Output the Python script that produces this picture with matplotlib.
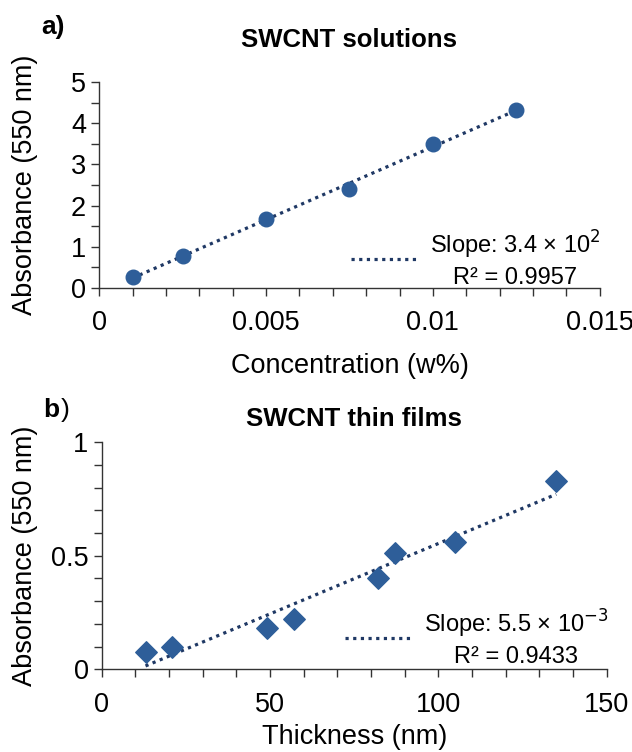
import numpy as np
import matplotlib
matplotlib.use("Agg")
import matplotlib.pyplot as plt
from matplotlib.ticker import MultipleLocator

plt.rcParams['font.family'] = ['Liberation Sans', 'DejaVu Sans']

# a) SWCNT solutions
conc = [0.001, 0.0025, 0.005, 0.0075, 0.01, 0.0125]
abs_sol = [0.27, 0.78, 1.68, 2.40, 3.50, 4.33]
label_a = "Slope: 3.4 × 10$^{2}$\nR² = 0.9957"

# b) SWCNT thin films
thick = [13, 21, 49, 57, 82, 87, 105, 135]
abs_film = [0.075, 0.10, 0.18, 0.22, 0.40, 0.51, 0.56, 0.83]
label_b = "Slope: 5.5 × 10$^{\u22123}$\nR² = 0.9433"

marker_col = '#2E5E99'
line_col = '#1F3864'

fig = plt.figure(figsize=(6.32, 7.52), dpi=100)
ax1 = fig.add_axes([0.157, 0.617, 0.792, 0.274])
ax2 = fig.add_axes([0.161, 0.110, 0.799, 0.302])


def style(ax):
    for s in ['top', 'right']:
        ax.spines[s].set_visible(False)
    for s in ['left', 'bottom']:
        ax.spines[s].set_color('#333333')
        ax.spines[s].set_linewidth(1.0)
    ax.tick_params(which='both', direction='out', length=6, width=1,
                   color='#333333', labelsize=19.5)
    ax.tick_params(axis='x', pad=10)


def fit_line(ax, x, y, label, anchor):
    k, b = np.polyfit(x, y, 1)
    xs = np.array([min(x), max(x)])
    ln, = ax.plot(xs, k * xs + b, linestyle=(0, (1, 1.4)), color=line_col,
                  lw=2.3, label=label)
    leg = ax.legend(handles=[ln], loc='lower right', frameon=False,
                    fontsize=17, handlelength=2.9, handletextpad=0.45,
                    bbox_to_anchor=anchor)
    for t in leg.get_texts():
        t.set_multialignment('center')
        t.set_linespacing(1.35)


# top panel
ax1.scatter(conc, abs_sol, s=110, color=marker_col, zorder=3)
fit_line(ax1, conc, abs_sol, label_a, (1.044, -0.107))
ax1.set_xlim(0, 0.015)
ax1.set_ylim(0, 5)
ax1.xaxis.set_minor_locator(MultipleLocator(0.001))
ax1.yaxis.set_major_locator(MultipleLocator(1))
ax1.yaxis.set_minor_locator(MultipleLocator(0.5))
ax1.set_xticks([0, 0.005, 0.01, 0.015])
ax1.set_xticklabels(['0', '0.005', '0.01', '0.015'])
style(ax1)
ax1.set_xlabel('Concentration (w%)', fontsize=19.5, labelpad=12)
ax1.set_ylabel('Absorbance (550 nm)', fontsize=19.5)
ax1.yaxis.set_label_coords(-0.122, 0.5)
ax1.set_title('SWCNT solutions', fontsize=18.5, fontweight='bold', pad=25)
fig.text(0.066, 0.964, 'a)', fontsize=19, fontweight='bold', va='center')

# bottom panel
ax2.scatter(thick, abs_film, s=120, marker='D', color=marker_col, zorder=3)
fit_line(ax2, thick, abs_film, label_b, (1.046, -0.086))
ax2.set_xlim(0, 150)
ax2.set_ylim(0, 1)
ax2.xaxis.set_major_locator(MultipleLocator(50))
ax2.xaxis.set_minor_locator(MultipleLocator(10))
ax2.yaxis.set_minor_locator(MultipleLocator(0.1))
ax2.set_yticks([0, 0.5, 1])
ax2.set_yticklabels(['0', '0.5', '1'])
style(ax2)
ax2.set_xlabel('Thickness (nm)', fontsize=19.5, labelpad=5)
ax2.set_ylabel('Absorbance (550 nm)', fontsize=19.5)
ax2.yaxis.set_label_coords(-0.127, 0.5)
ax2.set_title('SWCNT thin films', fontsize=18.5, fontweight='bold', pad=12)
fig.text(0.068, 0.455, 'b', fontsize=19, fontweight='bold', va='center')
fig.text(0.0965, 0.455, ')', fontsize=19, va='center')

fig.savefig('out.png', dpi=100, facecolor='white')
